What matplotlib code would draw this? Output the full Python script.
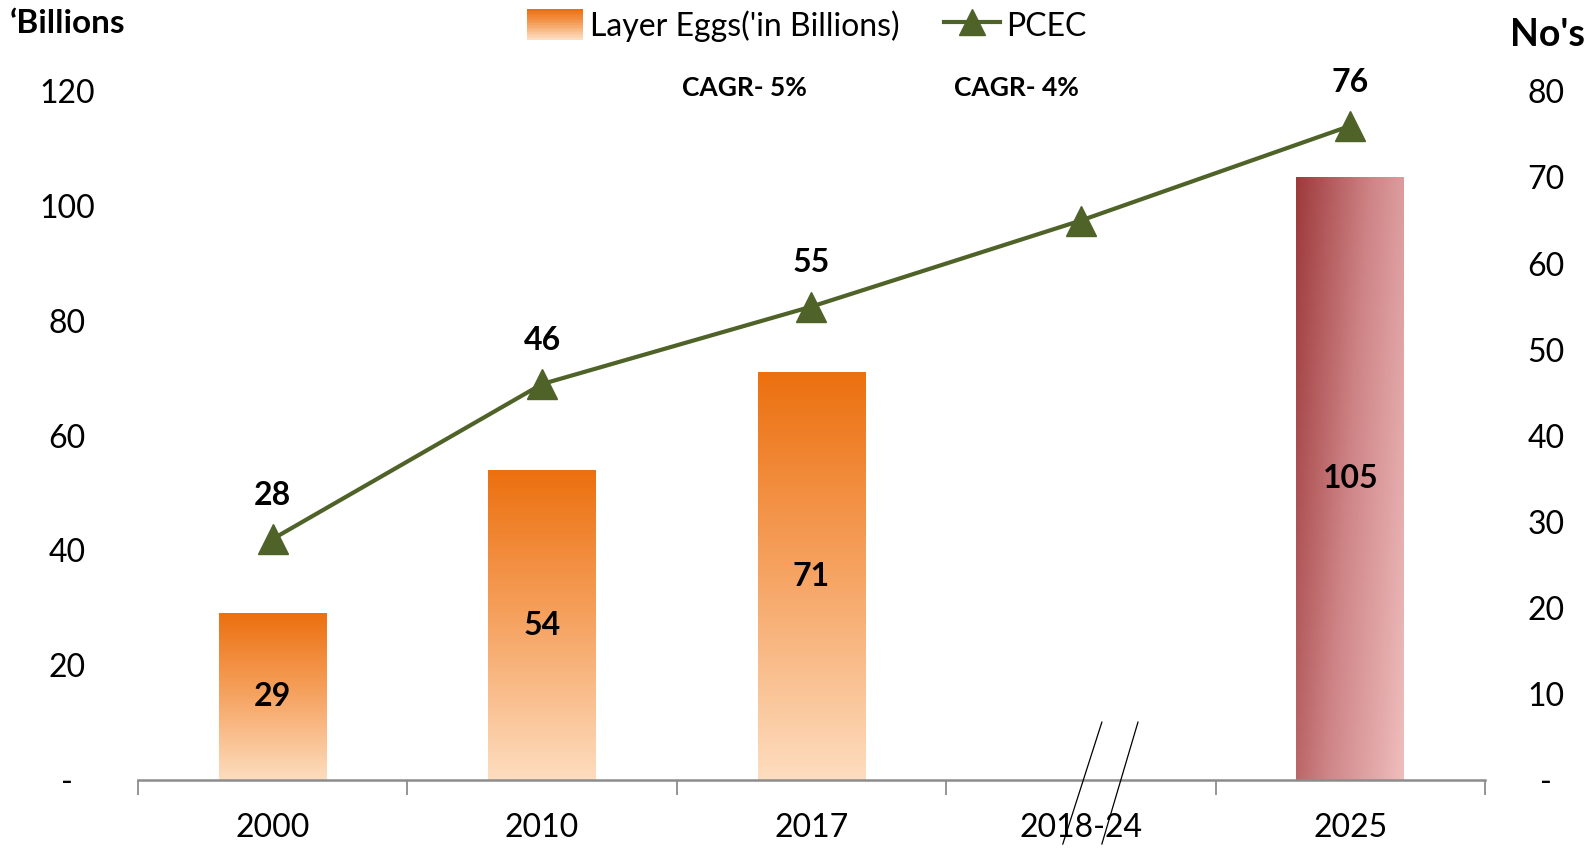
import matplotlib
matplotlib.use("Agg")
import matplotlib.pyplot as plt
import matplotlib.transforms as mtransforms
from matplotlib.colors import LinearSegmentedColormap
from matplotlib.lines import Line2D
from matplotlib.patches import Patch, Rectangle
from matplotlib.legend_handler import HandlerBase
import numpy as np

plt.rcParams['font.family'] = ['Lato', 'DejaVu Sans']

# data
categories = ['2000', '2010', '2017', '2018-24', '2025']
eggs = [29, 54, 71, np.nan, 105]          # layer eggs, billions
pcec = [28, 46, 55, 65, 76]               # per capita egg consumption
pcec_labels = ['28', '46', '55', '', '76']
cagr_notes = ['CAGR- 5%', 'CAGR- 4%']

orange_cm = LinearSegmentedColormap.from_list('og', ['#FDDDBF', '#F6A463', '#EC700F'])
red_cm = LinearSegmentedColormap.from_list('rd', ['#EFBDBD', '#CF8587', '#9E3A3C'])


class GradientHandler(HandlerBase):
    # legend swatch drawn as stacked strips of the bar gradient
    def create_artists(self, legend, orig_handle, xdescent, ydescent,
                       width, height, fontsize, trans):
        n = 20
        out = []
        for j in range(n):
            c = orange_cm(j / (n - 1))
            r = Rectangle((-xdescent, -ydescent + height * j / n), width, height / n + 0.3,
                          facecolor=c, edgecolor='none', transform=trans)
            out.append(r)
        return out


fig = plt.figure(figsize=(15.95, 8.48), dpi=100)
ax = fig.add_axes([0.0865, 0.0802, 0.8445, 0.812])
ax2 = ax.twinx()

x = np.arange(len(categories))
width = 0.40

bars = ax.bar(x, eggs, width=width, color='none', edgecolor='none', zorder=2)
for i, (b, v) in enumerate(zip(bars, eggs)):
    if np.isnan(v):
        continue
    x0 = b.get_x()
    x1 = x0 + b.get_width()
    if categories[i] == '2025':
        gx, gy = np.meshgrid(np.linspace(0, 1, 60), np.linspace(0, 1, 200))
        grad = 0.7 * (1 - gx) + 0.3 * gy     # dark top-left, light bottom-right
        ax.imshow(grad, extent=[x0, x1, 0, v], origin='lower', cmap=red_cm,
                  aspect='auto', zorder=2, vmin=0, vmax=1)
    else:
        grad = np.linspace(0, 1, 200).reshape(-1, 1)
        ax.imshow(grad, extent=[x0, x1, 0, v], origin='lower', cmap=orange_cm,
                  aspect='auto', zorder=2, vmin=0, vmax=1)
    ax.text(x[i], v / 2, f'{v:.0f}', ha='center', va='center',
            fontsize=23, fontweight='bold', zorder=5)

ax.set_xlim(-0.5, len(categories) - 0.5)
ax.set_ylim(0, 120)
ax2.set_ylim(0, 80)

ax2.plot(x, pcec, color='#4F6228', lw=3, marker='^', markersize=21, zorder=4)
for i, (v, lab) in enumerate(zip(pcec, pcec_labels)):
    if lab:
        ax2.text(x[i], v + 3.4, lab, ha='center', va='bottom', fontsize=23, fontweight='bold')

# ticks
ax.set_yticks(np.arange(0, 121, 20))
ax.set_yticklabels(['-'] + [str(t) for t in range(20, 121, 20)])
ax2.set_yticks(np.arange(0, 81, 10))
ax2.set_yticklabels(['-'] + [str(t) for t in range(10, 81, 10)])
ax.tick_params(axis='y', length=0, labelsize=23, pad=51)
ax2.tick_params(axis='y', length=0, labelsize=23, pad=44)
for lab in ax.get_yticklabels():
    lab.set_horizontalalignment('center')
for lab in ax2.get_yticklabels():
    lab.set_horizontalalignment('center')

ax.set_xticks(x)
ax.set_xticklabels(categories)
ax.set_xticks(np.arange(-0.5, len(categories)), minor=True)
ax.tick_params(axis='x', which='major', length=0, labelsize=23, pad=24)
ax.tick_params(axis='x', which='minor', length=11, width=1.3, color='#8C8C8C', direction='out')

for a in (ax, ax2):
    for s in ('top', 'left', 'right'):
        a.spines[s].set_visible(False)
ax.spines['bottom'].set_color('#8C8C8C')
ax.spines['bottom'].set_linewidth(1.8)
ax2.spines['bottom'].set_visible(False)

# axis break slashes at 2018-24
tr = mtransforms.blended_transform_factory(ax.transData, ax.transAxes)
k = categories.index('2018-24')
for dx0, dx1 in [(-0.067, 0.078), (0.078, 0.212)]:
    ax.add_line(Line2D([k + dx0, k + dx1], [-0.093, 0.084], transform=tr,
                       color='black', lw=0.9, clip_on=False, zorder=6))

# CAGR notes
ax.text(1.75, 120.6, cagr_notes[0], ha='center', va='center', fontsize=19, fontweight='bold')
ax.text(2.76, 120.6, cagr_notes[1], ha='center', va='center', fontsize=19, fontweight='bold')

# axis titles
fig.text(0.006, 0.972, '\u2018Billions', ha='left', va='center', fontsize=24, fontweight='bold')
fig.text(0.994, 0.959, "No's", ha='right', va='center', fontsize=27, fontweight='bold')

# legend
handles = [Patch(facecolor='#F4A15F', edgecolor='none'),
           Line2D([], [], color='#4F6228', lw=3, marker='^', markersize=19)]
leg = fig.legend(handles, ["Layer Eggs('in Billions)", 'PCEC'], loc='center',
                 bbox_to_anchor=(0.506, 0.970), ncol=2, frameon=False, fontsize=23,
                 handlelength=1.75, handleheight=1.1, handletextpad=0.2, columnspacing=1.4,
                 handler_map={Patch: GradientHandler()})

fig.savefig('out.png', dpi=100)
